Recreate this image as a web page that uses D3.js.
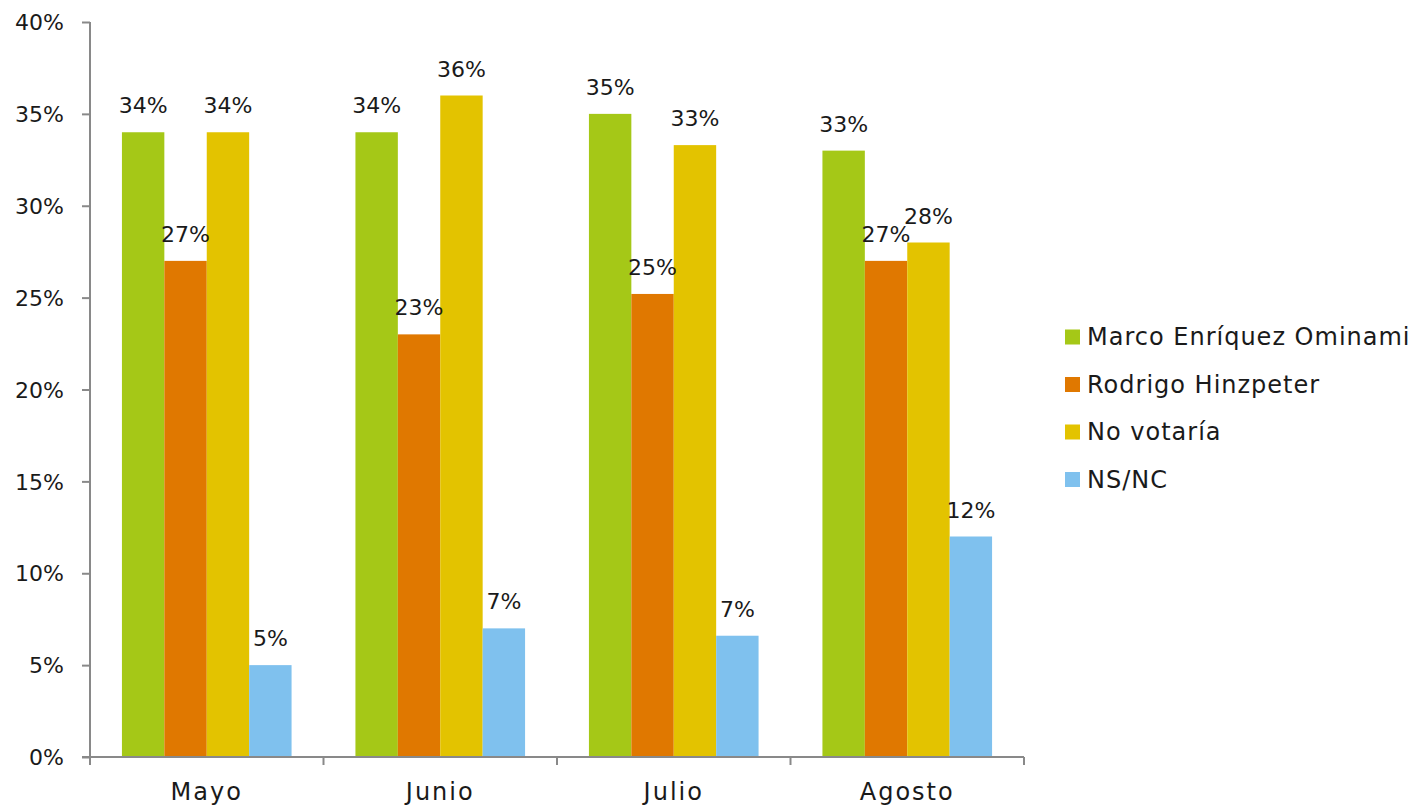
<!DOCTYPE html>
<html><head><meta charset="utf-8">
<script src="https://cdn.jsdelivr.net/npm/d3@7"></script>
<style>body{margin:0;background:#fff}svg text{font-family:"DejaVu Sans",sans-serif;fill:#1a1a1a}</style>
</head><body><svg id="c" width="1419" height="811"></svg>
<script>
const categories = ["Mayo","Junio","Julio","Agosto"];
const seriesNames = ["Marco Enríquez Ominami","Rodrigo Hinzpeter","No votaría","NS/NC"];
const seriesColors = ["#A5C817","#E07800","#E3C300","#7FC1EE"];
const marco = [34,34,35,33];
const rodrigo = [27,23,25.2,27];
const noVotaria = [34,36,33.3,28];
const nsnc = [5,7,6.6,12];
const yTicks = [0,5,10,15,20,25,30,35,40];
const values = [marco, rodrigo, noVotaria, nsnc];

const svg = d3.select("#c");
const L=90, R=1024, T=22, B=757;
const y = d3.scaleLinear().domain([0,40]).range([B,T]);
const x0 = d3.scaleBand().domain(categories).range([L,R]).padding(0);
const x1 = d3.scaleBand().domain(d3.range(4)).range([0,x0.bandwidth()]).paddingInner(0).paddingOuter(0.753);
const fs = 22;

// bars
categories.forEach((c,ci)=>{
  const g = svg.append("g").attr("transform",`translate(${x0(c)},0)`);
  values.forEach((arr,si)=>{
    g.append("rect").attr("x",x1(si)).attr("y",y(arr[ci])).attr("width",x1.bandwidth()).attr("height",B-y(arr[ci])).attr("fill",seriesColors[si]);
  });
  values.forEach((arr,si)=>{
    g.append("text").attr("x",x1(si)+x1.bandwidth()/2).attr("y",y(arr[ci])-19).attr("text-anchor","middle").attr("font-size",fs).text(Math.round(arr[ci])+"%");
  });
});

// y axis
const ya = svg.append("g").attr("transform",`translate(${L},0)`).call(d3.axisLeft(y).tickValues(yTicks).tickFormat(d=>d+"%").tickSize(8).tickPadding(18));
ya.select(".domain").attr("stroke","#898989").attr("stroke-width",2).attr("d",`M0,${T}V${B}`);
ya.selectAll(".tick line").attr("stroke","#898989").attr("stroke-width",2);
ya.selectAll(".tick text").attr("font-size",fs).attr("font-family","DejaVu Sans").attr("fill","#1a1a1a").attr("dy","0.35em");

// x axis
const xa = svg.append("g").attr("transform",`translate(0,${B})`).call(d3.axisBottom(x0).tickSize(0).tickPadding(26));
xa.select(".domain").attr("stroke","#898989").attr("stroke-width",2).attr("d",`M${L-8},0H${R}`);
xa.selectAll(".tick text").attr("font-size",24).attr("letter-spacing","2px").attr("font-family","DejaVu Sans").attr("fill","#1a1a1a");
const bounds = categories.map(c=>x0(c)).concat([R]);
xa.selectAll(".sep").data(bounds).enter().append("line").attr("x1",d=>d).attr("x2",d=>d).attr("y1",0).attr("y2",8).attr("stroke","#898989").attr("stroke-width",2);

// legend
const lg = svg.append("g");
seriesNames.forEach((n,i)=>{
  const cy = 337 + i*47.5;
  lg.append("rect").attr("x",1065).attr("y",cy-7.5).attr("width",15).attr("height",15).attr("fill",seriesColors[i]);
  lg.append("text").attr("x",1087).attr("y",cy).attr("dy","0.35em").attr("font-size",24).attr("letter-spacing","1px").text(n);
});
</script></body></html>
